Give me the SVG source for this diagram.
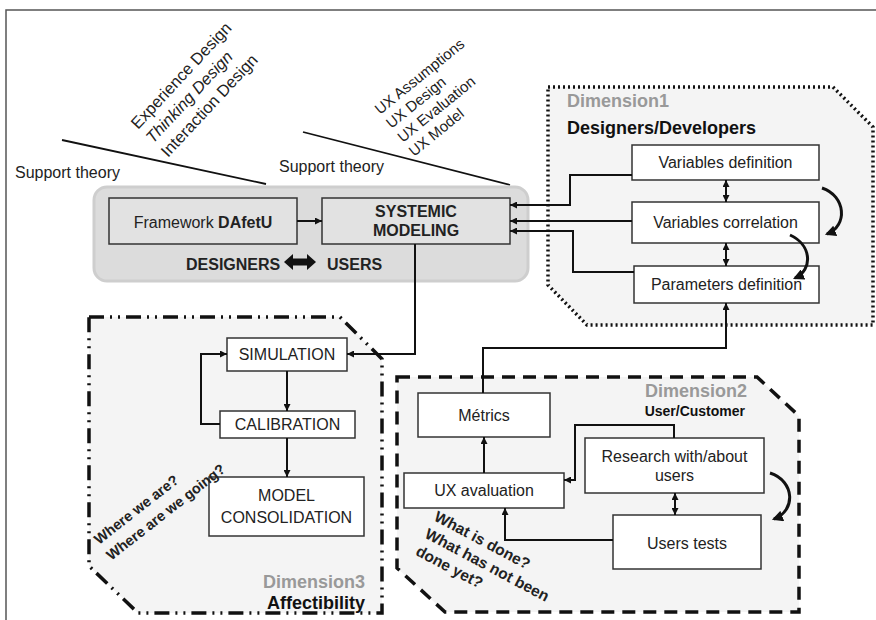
<svg xmlns="http://www.w3.org/2000/svg" width="876" height="620" viewBox="0 0 876 620">
  <style>
    text { font-family: "Liberation Sans", Arial, sans-serif; fill: #222; }
    .lbl { font-size: 16px; }
    .bold { font-weight: bold; }
    .dim { font-size: 18px; font-weight: bold; fill: #999; }
    .dimsub { font-size: 18px; font-weight: bold; fill: #111; }
    .box { fill: #fff; stroke: #333; stroke-width: 1.5; }
    .gbox { fill: #e2e2e2; stroke: #333; stroke-width: 1.5; }
    .wire { fill: none; stroke: #111; stroke-width: 2; }
    .curve { fill: none; stroke: #111; stroke-width: 3; }
    .theory { stroke: #111; stroke-width: 1.8; }
  </style>
  <defs>
    <marker id="ah" viewBox="0 0 10 10" refX="10" refY="5" markerWidth="7" markerHeight="7" markerUnits="userSpaceOnUse" orient="auto-start-reverse">
      <path d="M0,0 L10,5 L0,10 z" fill="#111"/>
    </marker>
    <marker id="ahc" viewBox="0 0 10 10" refX="8" refY="5" markerWidth="11" markerHeight="11" markerUnits="userSpaceOnUse" orient="auto">
      <path d="M0,0 L10,5 L0,10 z" fill="#111"/>
    </marker>
  </defs>

  <!-- page frame -->
  <rect x="6" y="10" width="880" height="620" fill="#fff" stroke="#555" stroke-width="1.5"/>

  <!-- support theory annotations -->
  <g id="theory-left">
    <line class="theory" x1="62" y1="140" x2="266" y2="184"/>
    <text class="lbl" x="15" y="178">Support theory</text>
    <text font-size="16.5" transform="translate(138,130) rotate(-47)">
      <tspan x="0" y="0">Experience Design</tspan>
      <tspan x="0" y="20.5" font-style="italic">Thinking Design</tspan>
      <tspan x="0" y="41">Interaction Design</tspan>
    </text>
  </g>
  <g id="theory-right">
    <line class="theory" x1="303" y1="132" x2="510" y2="185"/>
    <text class="lbl" x="279" y="172">Support theory</text>
    <text font-size="15" transform="translate(380,115) rotate(-39)">
      <tspan x="0" y="0">UX Assumptions</tspan>
      <tspan x="0" y="18">UX Design</tspan>
      <tspan x="0" y="36">UX Evaluation</tspan>
      <tspan x="0" y="54">UX Model</tspan>
    </text>
  </g>

  <!-- dimension containers -->
  <g id="dimension1">
    <path d="M548,87 H833 L873,127 V325 H587 L548,285 Z" fill="#f4f4f4" stroke="#111" stroke-width="3.5" stroke-dasharray="2 3"/>
    <text class="dim" x="567" y="107">Dimension1</text>
    <text class="dimsub" x="567" y="134">Designers/Developers</text>
  </g>
  <g id="dimension2">
    <path d="M397,377 H757 L799,416 V612 H445 L397,568 Z" fill="#f4f4f4" stroke="#111" stroke-width="3.5" stroke-dasharray="13 8"/>
    <text class="dim" x="747" y="397" text-anchor="end">Dimension2</text>
    <text class="dimsub" x="745" y="416" text-anchor="end" style="font-size:14px">User/Customer</text>
  </g>
  <g id="dimension3">
    <path d="M89,317 H340 L382,359 V613 H138 L89,566 Z" fill="#f4f4f4" stroke="#111" stroke-width="3.5" stroke-dasharray="15 6 2 6 2 6"/>
    <text class="dim" x="365" y="588" text-anchor="end">Dimension3</text>
    <text class="dimsub" x="365" y="609" text-anchor="end">Affectibility</text>
  </g>

  <!-- main modeling container -->
  <g id="core">
    <rect x="94" y="187" width="434" height="94" rx="13" fill="#dcdcdc" stroke="#cecece" stroke-width="3"/>
    <text class="lbl bold" x="186" y="270">DESIGNERS</text>
    <path d="M284,262 L293,254 L293,258.5 L307,258.5 L307,254 L316,262 L307,270 L307,265.5 L293,265.5 L293,270 Z" fill="#111"/>
    <text class="lbl bold" x="327" y="270">USERS</text>
  </g>
  <g id="framework">
    <rect class="gbox" x="109" y="198" width="188" height="46"/>
    <text class="lbl" x="203" y="228" text-anchor="middle">Framework <tspan font-weight="bold">DAfetU</tspan></text>
  </g>
  <g id="systemic-modeling">
    <rect class="gbox" x="322" y="198" width="188" height="46"/>
    <text class="lbl bold" x="416" y="217" text-anchor="middle">SYSTEMIC</text>
    <text class="lbl bold" x="416" y="236" text-anchor="middle">MODELING</text>
  </g>

  <!-- dimension 1 steps -->
  <g id="variables-definition">
    <rect class="box" x="632" y="145" width="187" height="35"/>
    <text class="lbl" x="725.5" y="168" text-anchor="middle">Variables definition</text>
  </g>
  <g id="variables-correlation">
    <rect class="box" x="632" y="202" width="187" height="41"/>
    <text class="lbl" x="725.5" y="228" text-anchor="middle">Variables correlation</text>
  </g>
  <g id="parameters-definition">
    <rect class="box" x="634" y="266" width="185" height="37"/>
    <text class="lbl" x="726.5" y="290" text-anchor="middle">Parameters definition</text>
  </g>

  <!-- dimension 3 steps -->
  <g id="simulation">
    <rect class="box" x="227" y="338" width="120" height="33"/>
    <text class="lbl" x="287" y="360" text-anchor="middle">SIMULATION</text>
  </g>
  <g id="calibration">
    <rect class="box" x="220" y="411" width="135" height="27"/>
    <text class="lbl" x="287.5" y="430" text-anchor="middle">CALIBRATION</text>
  </g>
  <g id="model-consolidation">
    <rect class="box" x="209" y="477" width="155" height="59"/>
    <text class="lbl" x="286.5" y="501" text-anchor="middle">MODEL</text>
    <text class="lbl" x="286.5" y="523" text-anchor="middle">CONSOLIDATION</text>
  </g>

  <!-- dimension 2 steps -->
  <g id="metrics">
    <rect class="box" x="418" y="393" width="132" height="44"/>
    <text class="lbl" x="484" y="421" text-anchor="middle">Métrics</text>
  </g>
  <g id="ux-avaluation">
    <rect class="box" x="404" y="473" width="160" height="35"/>
    <text class="lbl" x="484" y="496" text-anchor="middle">UX avaluation</text>
  </g>
  <g id="research">
    <rect class="box" x="585" y="438" width="179" height="55"/>
    <text class="lbl" x="674.5" y="462" text-anchor="middle">Research with/about</text>
    <text class="lbl" x="674.5" y="481" text-anchor="middle">users</text>
  </g>
  <g id="users-tests">
    <rect class="box" x="613" y="515" width="148" height="54"/>
    <text class="lbl" x="687" y="549" text-anchor="middle">Users tests</text>
  </g>

  <!-- guiding questions -->
  <text class="bold" font-size="14.5" transform="translate(99,545) rotate(-38)">
    <tspan x="0" y="0">Where we are?</tspan>
    <tspan x="0" y="20">Where are we going?</tspan>
  </text>
  <text class="bold" font-size="15.5" transform="translate(433,520) rotate(28)">
    <tspan x="0" y="0">What is done?</tspan>
    <tspan x="0" y="19.5">What has not been</tspan>
    <tspan x="0" y="39">done yet?</tspan>
  </text>

  <!-- connectors -->
  <g id="connectors">
    <path class="wire" d="M297,221 H322" marker-end="url(#ah)"/>
    <path class="wire" d="M632,175 H570 V205 H510" marker-end="url(#ah)"/>
    <path class="wire" d="M632,221 H510" marker-end="url(#ah)"/>
    <path class="wire" d="M634,272 H573 V231 H510" marker-end="url(#ah)"/>
    <path class="wire" d="M726,180 V202" marker-start="url(#ah)" marker-end="url(#ah)"/>
    <path class="wire" d="M726,243 V266" marker-start="url(#ah)" marker-end="url(#ah)"/>
    <path class="curve" d="M822,188 C846,196 848,226 827,234" marker-end="url(#ahc)"/>
    <path class="curve" d="M790,235 C812,245 813,270 795,278" marker-end="url(#ahc)"/>
    <path class="wire" d="M415,244 V354 H347" marker-end="url(#ah)"/>
    <path class="wire" d="M287,371 V411" marker-end="url(#ah)"/>
    <path class="wire" d="M287,438 V477" marker-end="url(#ah)"/>
    <path class="wire" d="M220,424 H201 V354 H227" marker-end="url(#ah)"/>
    <path class="wire" d="M483,393 V348 H726 V303" marker-end="url(#ah)"/>
    <path class="wire" d="M484,473 V437" marker-end="url(#ah)"/>
    <path class="wire" d="M674,438 V425 H575 V480 H564" marker-end="url(#ah)"/>
    <path class="wire" d="M613,540 H505 V508" marker-end="url(#ah)"/>
    <path class="wire" d="M675,493 V515" marker-start="url(#ah)" marker-end="url(#ah)"/>
    <path class="curve" d="M770,473 C795,481 796,511 774,519" marker-end="url(#ahc)"/>
  </g>
</svg>
